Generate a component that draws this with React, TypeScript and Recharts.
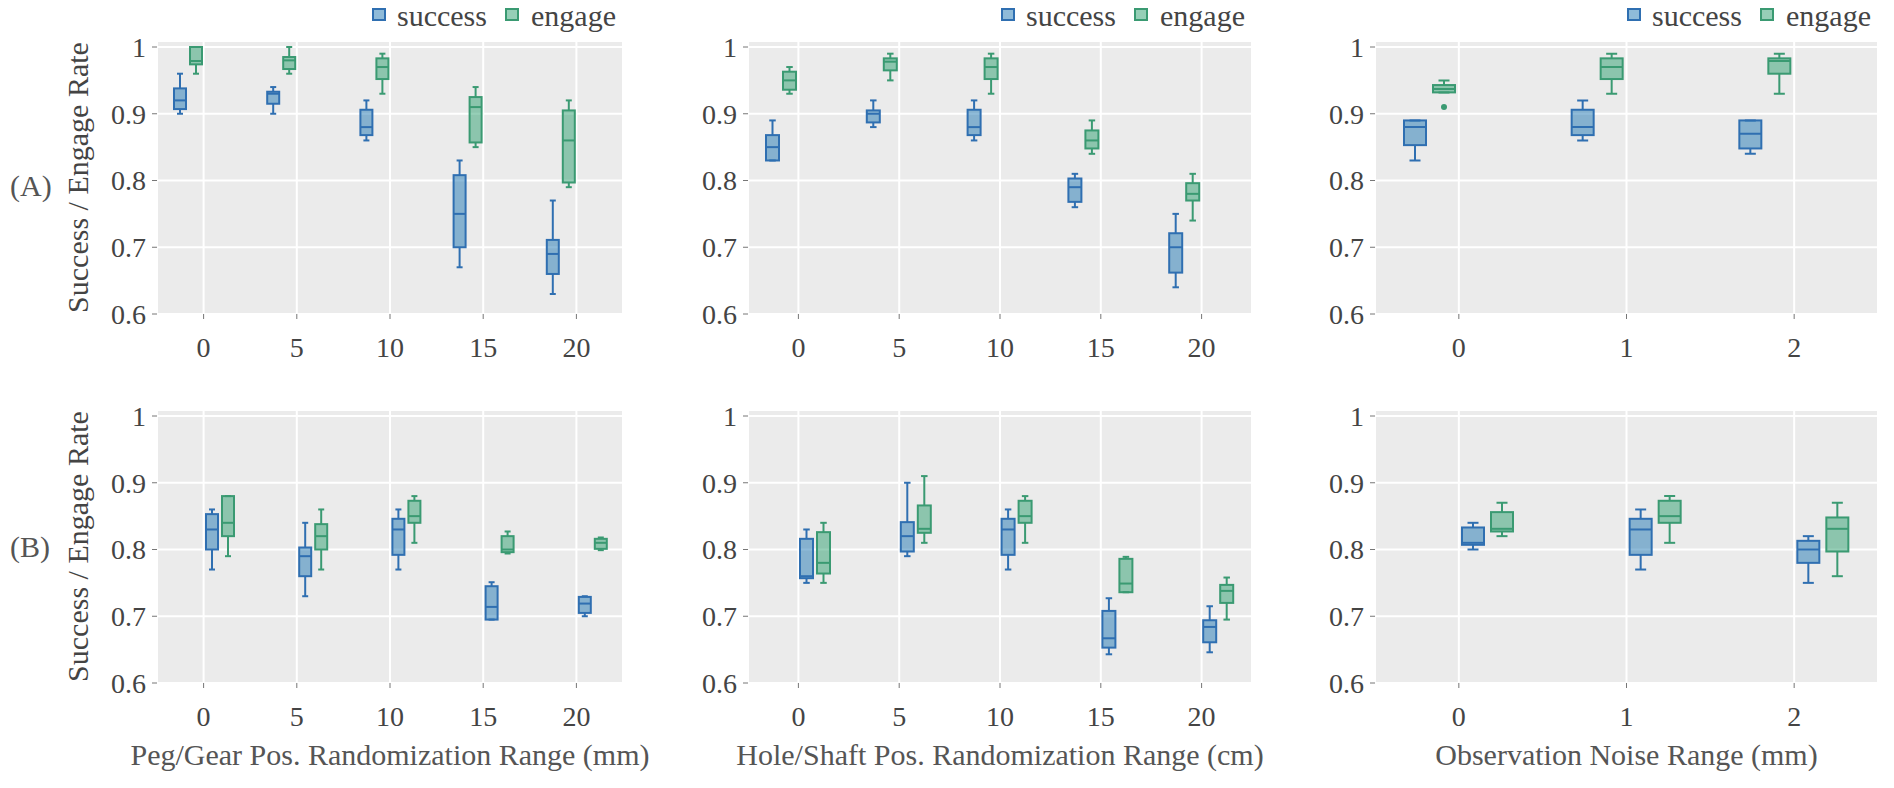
import React from 'react';
import { ComposedChart, Bar, XAxis, YAxis, CartesianGrid } from 'recharts';

const FONT = '"Liberation Serif", "Times New Roman", serif';

// each box: [min, q1, median, q3, max]
const posCats = ['0', '5', '10', '15', '20'];
const noiseCats = ['0', '1', '2'];
const yTicks = [0.6, 0.7, 0.8, 0.9, 1];

const pegSuccessA = [
  [0.9, 0.907, 0.92, 0.938, 0.96],
  [0.9, 0.915, 0.93, 0.933, 0.94],
  [0.86, 0.868, 0.88, 0.906, 0.92],
  [0.67, 0.7, 0.75, 0.808, 0.83],
  [0.63, 0.66, 0.69, 0.711, 0.77],
];
const pegEngageA = [
  [0.96, 0.974, 0.979, 1.0, 1.0],
  [0.96, 0.967, 0.98, 0.985, 1.0],
  [0.93, 0.952, 0.97, 0.983, 0.99],
  [0.85, 0.857, 0.91, 0.925, 0.94],
  [0.79, 0.797, 0.86, 0.905, 0.92],
];
const holeSuccessA = [
  [0.83, 0.83, 0.85, 0.868, 0.89],
  [0.88, 0.887, 0.9, 0.905, 0.92],
  [0.86, 0.868, 0.88, 0.906, 0.92],
  [0.76, 0.768, 0.79, 0.803, 0.81],
  [0.64, 0.662, 0.7, 0.721, 0.75],
];
const holeEngageA = [
  [0.93, 0.936, 0.95, 0.963, 0.97],
  [0.95, 0.965, 0.978, 0.983, 0.99],
  [0.93, 0.952, 0.97, 0.983, 0.99],
  [0.84, 0.848, 0.86, 0.875, 0.89],
  [0.74, 0.77, 0.78, 0.796, 0.81],
];
const noiseSuccessA = [
  [0.83, 0.853, 0.88, 0.89, 0.89],
  [0.86, 0.868, 0.88, 0.906, 0.92],
  [0.84, 0.848, 0.87, 0.89, 0.89],
];
const noiseEngageA = [
  [0.932, 0.932, 0.937, 0.943, 0.95],
  [0.93, 0.952, 0.97, 0.983, 0.99],
  [0.93, 0.96, 0.979, 0.983, 0.99],
];
const noiseEngageOutliersA = [[0.91], [], []];

const pegSuccessB = [
  [0.77, 0.8, 0.83, 0.853, 0.86],
  [0.73, 0.76, 0.79, 0.803, 0.84],
  [0.77, 0.792, 0.83, 0.846, 0.86],
  [0.695, 0.695, 0.714, 0.745, 0.751],
  [0.7, 0.705, 0.719, 0.729, 0.73],
];
const pegEngageB = [
  [0.79, 0.82, 0.84, 0.88, 0.88],
  [0.77, 0.8, 0.82, 0.838, 0.86],
  [0.81, 0.84, 0.85, 0.873, 0.88],
  [0.794, 0.796, 0.8, 0.82, 0.827],
  [0.799, 0.801, 0.81, 0.816, 0.818],
];
const holeSuccessB = [
  [0.75, 0.757, 0.76, 0.816, 0.83],
  [0.79, 0.797, 0.82, 0.841, 0.9],
  [0.77, 0.792, 0.83, 0.846, 0.86],
  [0.643, 0.653, 0.667, 0.708, 0.727],
  [0.646, 0.661, 0.684, 0.694, 0.715],
];
const holeEngageB = [
  [0.75, 0.764, 0.78, 0.826, 0.84],
  [0.81, 0.825, 0.831, 0.866, 0.91],
  [0.81, 0.84, 0.85, 0.873, 0.88],
  [0.736, 0.736, 0.749, 0.786, 0.789],
  [0.695, 0.72, 0.738, 0.747, 0.758],
];
const noiseSuccessB = [
  [0.8, 0.807, 0.81, 0.833, 0.84],
  [0.77, 0.792, 0.83, 0.846, 0.86],
  [0.75, 0.78, 0.8, 0.813, 0.82],
];
const noiseEngageB = [
  [0.82, 0.827, 0.831, 0.856, 0.87],
  [0.81, 0.84, 0.85, 0.873, 0.88],
  [0.76, 0.797, 0.831, 0.848, 0.87],
];

const xTitles = [
  'Peg/Gear Pos. Randomization Range (mm)',
  'Hole/Shaft Pos. Randomization Range (cm)',
  'Observation Noise Range (mm)',
];
const rowLabels = ['(A)', '(B)'];

const SUCCESS = '#2f6fb1';
const SUCCESS_FILL = '#1f77b4';
const ENGAGE = '#3a9a72';
const ENGAGE_FILL = '#2d9f6f';

const cols = [
  { L: 157, R: 623 },
  { L: 748, R: 1252 },
  { L: 1375, R: 1878 },
];
const rows = [
  { T: 41, B: 314 },
  { T: 410, B: 683 },
];

const buildData = (cats: string[], s: number[][], e: number[][], eOut?: number[][]) =>
  cats.map((c, i) => ({ cat: c, success: s[i], engage: e[i], engageOut: eOut ? eOut[i] : [] }));

const panels = [
  [
    buildData(posCats, pegSuccessA, pegEngageA),
    buildData(posCats, holeSuccessA, holeEngageA),
    buildData(noiseCats, noiseSuccessA, noiseEngageA, noiseEngageOutliersA),
  ],
  [
    buildData(posCats, pegSuccessB, pegEngageB),
    buildData(posCats, holeSuccessB, holeEngageB),
    buildData(noiseCats, noiseSuccessB, noiseEngageB),
  ],
];

const makeBox = (key: 'success' | 'engage', line: string, fill: string) => (props: any) => {
  const { x, y, width, height, payload } = props;
  const s: number[] = payload && payload[key];
  if (!s || x == null || y == null) return <g />;
  const v0 = s[0];
  const v1 = s[4];
  const toPx = (v: number) => y + ((v1 - v) / (v1 - v0)) * height;
  const cx = x + width / 2;
  const cap = width * 0.25;
  const outs: number[] = (payload && payload[key + 'Out']) || [];
  return (
    <g>
      <line x1={cx} x2={cx} y1={toPx(s[4])} y2={toPx(s[3])} stroke={line} strokeWidth={2} />
      <line x1={cx} x2={cx} y1={toPx(s[1])} y2={toPx(s[0])} stroke={line} strokeWidth={2} />
      <line x1={cx - cap} x2={cx + cap} y1={toPx(s[4])} y2={toPx(s[4])} stroke={line} strokeWidth={2} />
      <line x1={cx - cap} x2={cx + cap} y1={toPx(s[0])} y2={toPx(s[0])} stroke={line} strokeWidth={2} />
      <rect
        x={x}
        y={toPx(s[3])}
        width={width}
        height={toPx(s[1]) - toPx(s[3])}
        fill={fill}
        fillOpacity={0.5}
        stroke={line}
        strokeWidth={2}
      />
      <line x1={x} x2={x + width} y1={toPx(s[2])} y2={toPx(s[2])} stroke={line} strokeWidth={2} />
      {outs.map((o, i) => (
        <circle key={i} cx={cx} cy={toPx(o)} r={3} fill={line} />
      ))}
    </g>
  );
};

const successShape = makeBox('success', SUCCESS, SUCCESS_FILL);
const engageShape = makeBox('engage', ENGAGE, ENGAGE_FILL);

const tickStyle = { fill: '#444', fontSize: 28, fontFamily: FONT };

const Panel = ({ data, r, c }: { data: any[]; r: number; c: number }) => {
  const { L, R } = cols[c];
  const { T, B } = rows[r];
  const padL = 90;
  const padT = 10;
  const band = (R - L) / data.length;
  const barSize = Math.round(band * 0.13);
  const barGap = Math.round(band * 0.042);
  const bars = [
    <Bar key="s" dataKey={(d: any) => [d.success[0], d.success[4]]} barSize={barSize} shape={successShape} isAnimationActive={false} />,
    <Bar key="e" dataKey={(d: any) => [d.engage[0], d.engage[4]]} barSize={barSize} shape={engageShape} isAnimationActive={false} />,
  ];
  const dummies = [
    <Bar key="d1" dataKey="none1" barSize={barSize} isAnimationActive={false} />,
    <Bar key="d2" dataKey="none2" barSize={barSize} isAnimationActive={false} />,
  ];
  return (
    <div style={{ position: 'absolute', left: L - padL, top: T - padT }}>
      <ComposedChart
        width={R - L + padL + 10}
        height={B - T + padT + 60}
        data={data}
        margin={{ top: padT, right: 10, left: 0, bottom: 0 }}
        barGap={barGap}
      >
        <CartesianGrid fill="#ebebeb" fillOpacity={1} stroke="#ffffff" strokeWidth={2} />
        <XAxis
          dataKey="cat"
          type="category"
          height={60}
          interval={0}
          axisLine={false}
          tickLine={{ stroke: '#777' }}
          tickSize={5}
          tickMargin={18}
          tick={tickStyle}
        />
        <YAxis
          type="number"
          width={padL}
          domain={[0.6, 1.009]}
          allowDataOverflow
          ticks={yTicks}
          interval={0}
          axisLine={false}
          tickLine={{ stroke: '#777' }}
          tickSize={5}
          tickMargin={6}
          tick={tickStyle}
          tickFormatter={(v: number) => (v === 1 ? '1' : v.toFixed(1))}
        />
        {r === 0 ? [...bars, ...dummies] : [...dummies, ...bars]}
      </ComposedChart>
    </div>
  );
};

export default function App() {
  return (
    <div style={{ position: 'absolute', left: 0, top: 0, width: 1894, height: 788, background: '#fff', fontFamily: FONT }}>
      {panels.map((row, r) => row.map((data, c) => <Panel key={`${r}-${c}`} data={data} r={r} c={c} />))}
      <svg width={1894} height={788} style={{ position: 'absolute', left: 0, top: 0, pointerEvents: 'none' }}>
        {cols.map((col, c) => (
          <g key={`lg${c}`} fontFamily={FONT} fontSize={30} fill="#444">
            <rect x={col.R - 250} y={9} width={12} height={11} fill={SUCCESS_FILL} fillOpacity={0.5} stroke={SUCCESS} strokeWidth={2} />
            <text x={col.R - 226} y={26}>success</text>
            <rect x={col.R - 117} y={9} width={12} height={11} fill={ENGAGE_FILL} fillOpacity={0.5} stroke={ENGAGE} strokeWidth={2} />
            <text x={col.R - 92} y={26}>engage</text>
          </g>
        ))}
        {cols.map((col, c) => (
          <text key={`xt${c}`} x={(col.L + col.R) / 2} y={765} textAnchor="middle" fontFamily={FONT} fontSize={30} fill="#555">
            {xTitles[c]}
          </text>
        ))}
        {rows.map((row, r) => {
          const cy = (row.T + row.B) / 2;
          return (
            <g key={`yt${r}`}>
              <text
                transform={`translate(88, ${cy}) rotate(-90)`}
                textAnchor="middle"
                fontFamily={FONT}
                fontSize={30}
                fill="#444"
              >
                Success / Engage Rate
              </text>
              <text x={10} y={r === 0 ? 196 : 557} fontFamily={FONT} fontSize={30} fill="#555">
                {rowLabels[r]}
              </text>
            </g>
          );
        })}
      </svg>
    </div>
  );
}
